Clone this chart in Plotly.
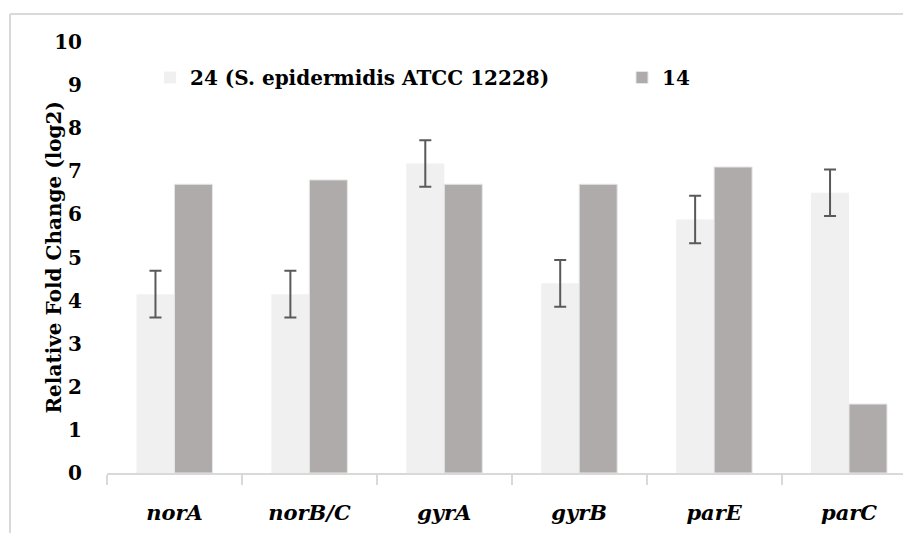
import plotly.graph_objects as go

genes = ["norA", "norB/C", "gyrA", "gyrB", "parE", "parC"]
series_24 = [4.15, 4.15, 7.18, 4.40, 5.88, 6.50]
series_24_err = [0.54, 0.54, 0.54, 0.54, 0.55, 0.54]
series_14 = [6.70, 6.80, 6.70, 6.70, 7.10, 1.60]
y_ticks = [0, 1, 2, 3, 4, 5, 6, 7, 8, 9, 10]

W, H = 903, 533
L, R, T, B = 107, 0, 42, 60
pw, ph = W - L - R, H - T - B

def px(x):
    return (x - L) / pw

def py(y):
    return (H - B - y) / ph

FONT = "DejaVu Serif"
LEG_FONT = dict(family=FONT, size=20, weight="bold")

fig = go.Figure()
fig.add_trace(go.Bar(
    x=genes, y=series_24, name="24 (S. epidermidis ATCC 12228)",
    marker=dict(color="#f0f0f0", line=dict(width=0)),
    error_y=dict(type="data", array=series_24_err, visible=True,
                 color="#595959", thickness=2, width=6),
    legend="legend",
))
fig.add_trace(go.Bar(
    x=genes, y=series_14, name="14",
    marker=dict(color="#afabab", line=dict(color="#e6e6e6", width=1)),
    legend="legend2",
))

fig.update_layout(
    width=W, height=H,
    margin=dict(l=L, r=R, t=T, b=B),
    paper_bgcolor="white", plot_bgcolor="white",
    barmode="group", bargap=0.437, bargroupgap=0,
    font=dict(family=FONT, color="black"),
    legend=dict(orientation="h", x=px(150), y=py(58), xanchor="left", yanchor="top",
                font=LEG_FONT, itemwidth=30, bgcolor="rgba(0,0,0,0)"),
    legend2=dict(orientation="h", x=px(622), y=py(58), xanchor="left", yanchor="top",
                 font=LEG_FONT, itemwidth=30, bgcolor="rgba(0,0,0,0)"),
    showlegend=True,
)
fig.update_xaxes(
    type="category", range=[-0.5, 5.4],
    showline=True, linecolor="#d9d9d9", linewidth=2,
    ticks="outside", tickson="boundaries", ticklen=10, tickcolor="#d9d9d9", tickwidth=2,
    tickfont=dict(family=FONT, size=21, weight="bold", style="italic"),
    ticklabelstandoff=20,
    showgrid=False, zeroline=False,
)
fig.update_yaxes(
    range=[0, 10], tickvals=y_ticks,
    showline=False, showgrid=False, zeroline=False,
    ticks="", ticklabelstandoff=24,
    tickfont=dict(family=FONT, size=20, weight="bold"),
)
fig.add_annotation(
    text="Relative Fold Change (log2)", textangle=-90,
    xref="paper", yref="paper", x=px(39), y=0.5, showarrow=False,
    font=dict(family=FONT, size=20, weight="bold"),
)
# outer chart border (only top and left edges visible in the crop)
fig.add_shape(type="line", xref="paper", yref="paper",
              x0=px(10), x1=px(903), y0=py(14), y1=py(14),
              line=dict(color="#d9d9d9", width=2), layer="below")
fig.add_shape(type="line", xref="paper", yref="paper",
              x0=px(10), x1=px(10), y0=py(14), y1=py(533),
              line=dict(color="#d9d9d9", width=2), layer="below")

fig.write_html("out.html", config={"displayModeBar": False},
               post_script="document.body.style.margin='0';document.body.style.overflow='hidden';")
